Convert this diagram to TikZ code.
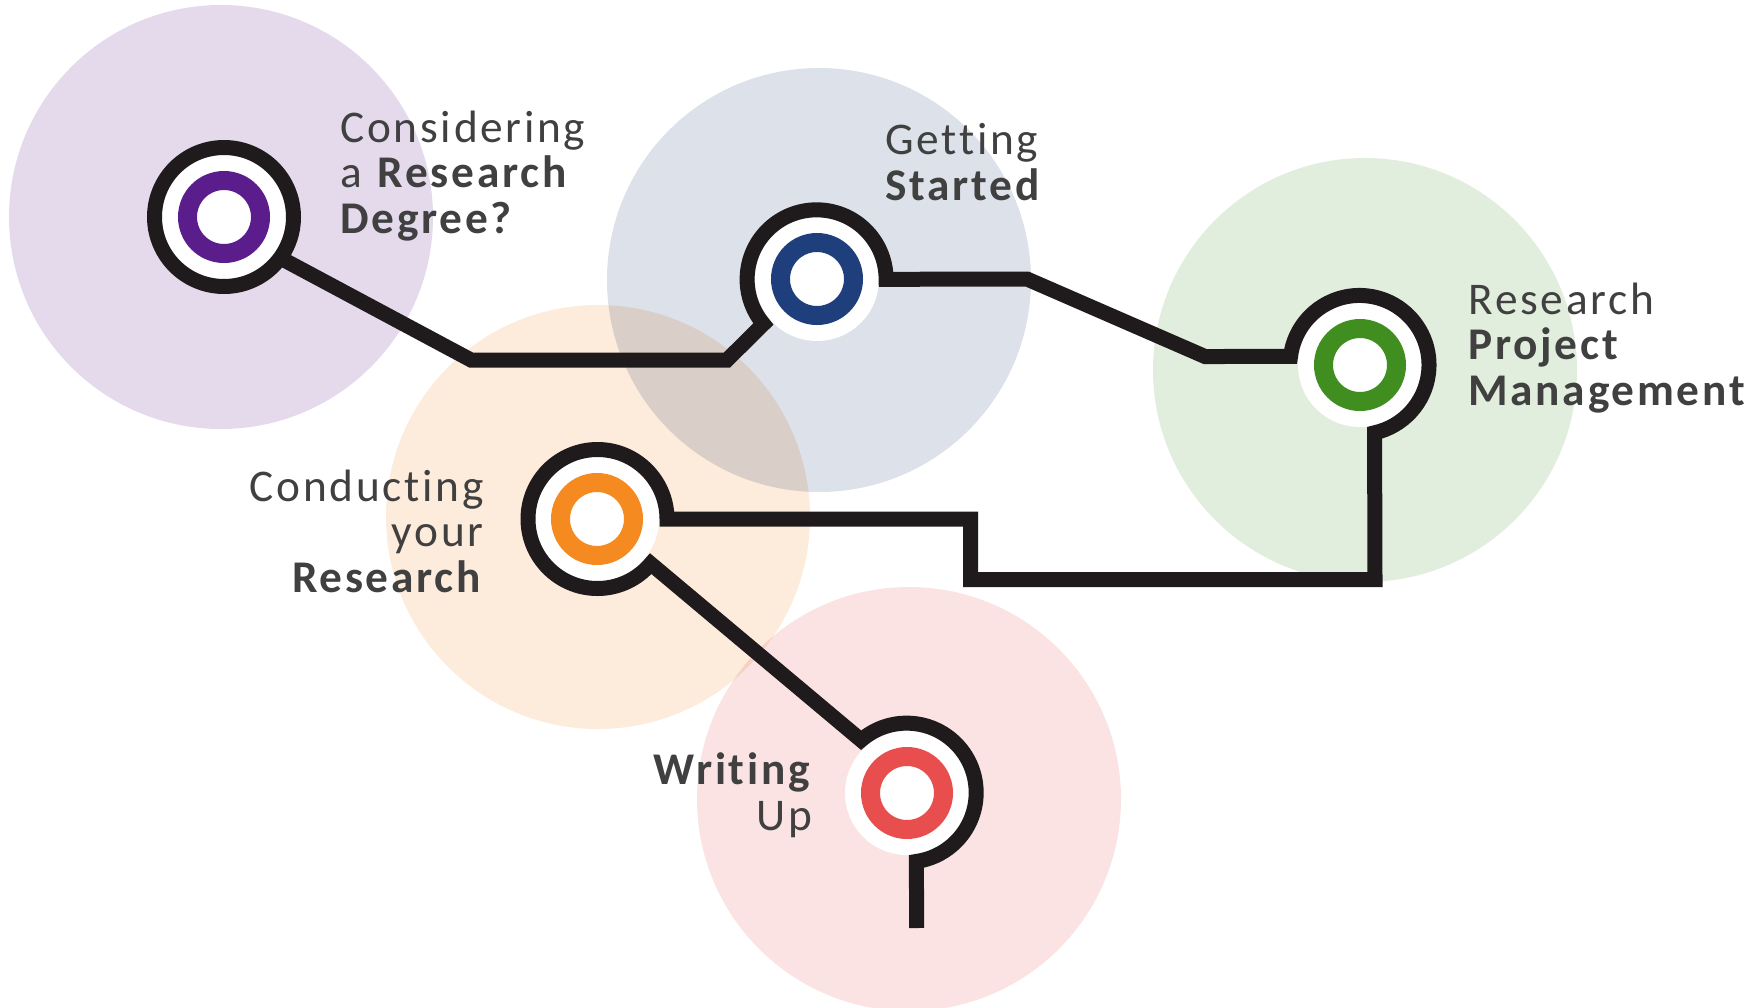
\documentclass[tikz,border=0pt]{standalone}
\usepackage{fontspec}
\newfontfamily\labelfont[LetterSpace=6,Ligatures=CommonOff]{Carlito}

\definecolor{bgpurple}{HTML}{E4DAEC}
\definecolor{bgblue}{HTML}{DCE1EA}
\definecolor{bggreen}{HTML}{E2EEDD}
\definecolor{bgorange}{HTML}{FDEBDB}
\definecolor{bgpink}{HTML}{FBE3E3}
\definecolor{ringpurple}{HTML}{5B1C8C}
\definecolor{ringblue}{HTML}{1E3F7B}
\definecolor{ringgreen}{HTML}{3F8E1F}
\definecolor{ringorange}{HTML}{F58A20}
\definecolor{ringred}{HTML}{E84E4E}
\definecolor{trackblack}{HTML}{1F1A1C}
\definecolor{labelgrey}{HTML}{404040}

\tikzset{every picture/.style={line width=0.75pt}}
\tikzset{
  track/.style={draw=trackblack, line width=11.25pt},
  station/.style={circle, inner sep=0pt, minimum size=104.25pt,
    path picture={
      \fill[white] (path picture bounding box.center) circle[radius=46.5pt];
      \draw[#1, line width=14.25pt] (path picture bounding box.center) circle[radius=27.375pt];}},
  stationtext/.style={font=\labelfont\fontsize{34}{34}\selectfont, text=labelgrey, inner sep=0pt},
}

\begin{document}
\begin{tikzpicture}[x=0.75pt,y=0.75pt,yscale=-1,xscale=1]
	\useasboundingbox (0,0) rectangle (1764,1007);

	% Background circles
	\begin{scope}[blend mode=multiply]
	\fill[bgpurple] (221,217) circle (212);
	\fill[bgblue] (819,280) circle (212);
	\fill[bggreen] (1365,370) circle (212);
	\fill[bgorange] (598,517) circle (212);
	\fill[bgpink] (909,799) circle (212);
	\end{scope}

	% Stations
	\node[station=ringpurple] (degree) at (224,217) {};
	\node[station=ringblue] (started) at (817,279) {};
	\node[station=ringgreen] (project) at (1360,365) {};
	\node[station=ringorange] (conducting) at (597,519) {};
	\node[station=ringred] (writing) at (907,793) {};

	% Bends of the track
	\coordinate (b1) at (471,360);
	\coordinate (b2) at (727,360);
	\coordinate (b3) at (1027,279);
	\coordinate (b4) at (1205,356.5);
	\coordinate (b5) at (1375,579.5);
	\coordinate (b6) at (970.5,579.5);
	\coordinate (b7) at (970.5,519);
	\coordinate (trackend) at (916.7,928);

	% Track
	\draw[track] (degree) circle (69.5);
	\draw[track] (degree.324) -- (b1) -- (b2) -- (started.220)
		arc[start angle=-220, end angle=0, radius=69.5] -- (b3) -- (b4) -- (project.173)
		arc[start angle=-173, end angle=77.5, radius=69.5] -- (b5) -- (b6) -- (b7) -- (conducting.east)
		arc[start angle=0, end angle=-320, radius=69.5] -- (writing.131)
		arc[start angle=-131, end angle=82, radius=69.5] -- (trackend);

	% Text Node
	\node[stationtext, anchor=base west, align=left] (degreetext) at (340,233) {Considering\\a \textbf{Research}\\\textbf{Degree?}};
	% Text Node
	\node[stationtext, anchor=base west, align=left] (startedtext) at (885,200) {Getting\\\textbf{Started}};
	% Text Node
	\node[stationtext, anchor=base west, align=left] (projecttext) at (1468,405) {Research\\\textbf{Project}\\\textbf{Management}};
	% Text Node
	\node[stationtext, anchor=base east, align=right] (conductingtext) at (484,592) {Conducting\\your\\\textbf{Research}};
	% Text Node
	\node[stationtext, anchor=base east, align=right] (writingtext) at (813,830) {\textbf{Writing}\\Up};

\end{tikzpicture}
\end{document}
